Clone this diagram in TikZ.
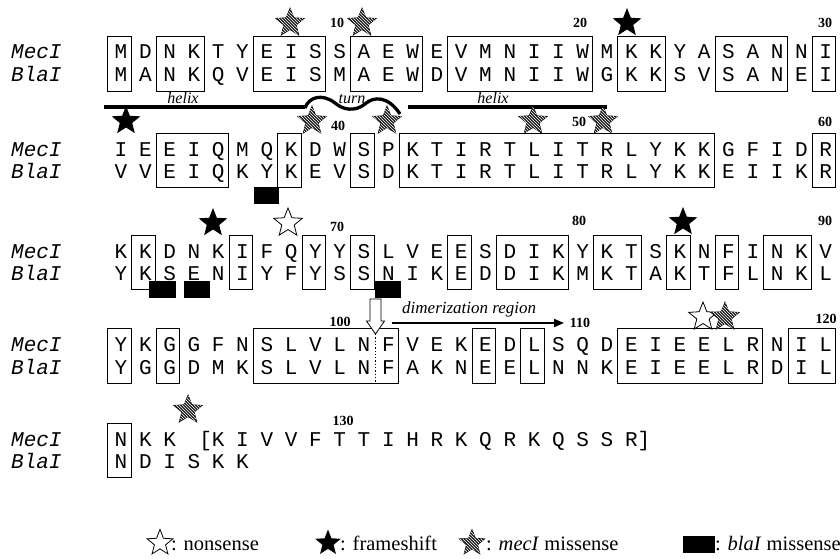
\documentclass[tikz,border=0pt]{standalone}
\usepackage{fontspec}
\setmainfont{Liberation Serif}
\newfontfamily\seqfont{Liberation Mono}
\usetikzlibrary{shapes.geometric,patterns,arrows.meta}
\begin{document}
\begin{tikzpicture}[x=1pt,y=-1pt,
  aa/.style={font=\seqfont\fontsize{21}{21}\selectfont, inner sep=0pt, anchor=base},
  lbl/.style={font=\seqfont\itshape\fontsize{21}{21}\selectfont, inner sep=0pt, anchor=base west},
  num/.style={font=\bfseries\fontsize{14}{14}\selectfont, inner sep=0pt},
  sbox/.style={draw, line width=0.8pt},
  stbase/.style={star, star points=5, star point ratio=2.3, minimum size=30pt, inner sep=0pt},
  bstar/.style={stbase, fill=black},
  ostar/.style={stbase, draw=black, fill=white, line width=0.8pt},
  hstar/.style={stbase, draw=black, line width=0.6pt, fill=black!88, postaction={pattern=north west lines, pattern color=white}},
  sq/.style={fill=black},
  hl/.style={line width=3.3pt},
  itl/.style={font=\itshape\fontsize{16}{16}\selectfont, inner sep=0pt, anchor=base},
  leg/.style={font=\fontsize{20.5}{20.5}\selectfont, inner sep=0pt, anchor=base west}
]
\useasboundingbox (0,0) rectangle (840,559);
\newcommand\seqbox[4]{\draw[sbox] ({121+(#3-1)*24.3-13.5},#1) rectangle ({121+(#4-1)*24.3+10},#2);}

% ---------- Row 1 ----------
\node[lbl] (l1m) at (11,59) {MecI};
\node[lbl] (l1b) at (11,82) {BlaI};
\foreach \c [count=\i] in {M,D,N,K,T,Y,E,I,S,S,A,E,W,E,V,M,N,I,I,W,M,K,K,Y,A,S,A,N,N,I}
  \node[aa] (r1m\i) at ({121+(\i-1)*24.3},59) {\c};
\foreach \c [count=\i] in {M,A,N,K,Q,V,E,I,S,M,A,E,W,D,V,M,N,I,I,W,G,K,K,S,V,S,A,N,E,I}
  \node[aa] (r1b\i) at ({121+(\i-1)*24.3},82) {\c};
\seqbox{36}{91}{1}{1}
\seqbox{36}{91}{3}{4}
\seqbox{36}{91}{7}{9}
\seqbox{36}{91}{11}{13}
\seqbox{36}{91}{15}{20}
\seqbox{36}{91}{22}{23}
\seqbox{36}{91}{26}{28}
\seqbox{36}{91}{30}{30}
\node[hstar] (s1a) at (290,23) {};
\node[hstar] (s1b) at (362,23) {};
\node[bstar] (s1c) at (627,23) {};
\node[num] (n10) at (337,23) {10};
\node[num] (n20) at (580,23) {20};
\node[num] (n30) at (825,23) {30};

% helix / turn
\draw[hl] (104,107) -- (305,107);
\draw[hl] (305,108) .. controls (309,97) and (322,93) .. (335,103) .. controls (343,110) and (355,112) .. (365,104) .. controls (374,96) and (388,96) .. (400,114);
\draw[hl] (408,107) -- (607,107);
\node[itl] (h1) at (183,103) {helix};
\node[itl] (t1) at (352,103) {turn};
\node[itl] (h2) at (493,103) {helix};

% ---------- Row 2 ----------
\node[lbl] (l2m) at (11,156) {MecI};
\node[lbl] (l2b) at (11,178) {BlaI};
\foreach \c [count=\i] in {I,E,E,I,Q,M,Q,K,D,W,S,P,K,T,I,R,T,L,I,T,R,L,Y,K,K,G,F,I,D,R}
  \node[aa] (r2m\i) at ({121+(\i-1)*24.3},156) {\c};
\foreach \c [count=\i] in {V,V,E,I,Q,K,Y,K,E,V,S,D,K,T,I,R,T,L,I,T,R,L,Y,K,K,E,I,I,K,R}
  \node[aa] (r2b\i) at ({121+(\i-1)*24.3},178) {\c};
\seqbox{133}{187}{3}{5}
\seqbox{133}{187}{8}{8}
\seqbox{133}{187}{11}{11}
\seqbox{133}{187}{13}{25}
\seqbox{133}{187}{30}{30}
\fill[sq] (254,187) rectangle (279,204);
\node[bstar] (s2a) at (126,121) {};
\node[hstar] (s2b) at (312,121) {};
\node[hstar] (s2c) at (387,121) {};
\node[hstar] (s2d) at (533,121) {};
\node[hstar] (s2e) at (603,121) {};
\node[num] (n40) at (338,126) {40};
\node[num] (n50) at (579,122) {50};
\node[num] (n60) at (825,122) {60};

% ---------- Row 3 ----------
\node[lbl] (l3m) at (11,258) {MecI};
\node[lbl] (l3b) at (11,280) {BlaI};
\foreach \c [count=\i] in {K,K,D,N,K,I,F,Q,Y,Y,S,L,V,E,E,S,D,I,K,Y,K,T,S,K,N,F,I,N,K,V}
  \node[aa] (r3m\i) at ({121+(\i-1)*24.3},258) {\c};
\foreach \c [count=\i] in {Y,K,S,E,N,I,Y,F,Y,S,S,N,I,K,E,D,D,I,K,M,K,T,A,K,T,F,L,N,K,L}
  \node[aa] (r3b\i) at ({121+(\i-1)*24.3},280) {\c};
\seqbox{235}{289}{2}{2}
\seqbox{235}{289}{6}{6}
\seqbox{235}{289}{9}{9}
\seqbox{235}{289}{11}{11}
\seqbox{235}{289}{15}{15}
\seqbox{235}{289}{17}{19}
\seqbox{235}{289}{21}{22}
\seqbox{235}{289}{24}{24}
\seqbox{235}{289}{26}{26}
\seqbox{235}{289}{28}{29}
\fill[sq] (149,281) rectangle (176,298);
\fill[sq] (184,281) rectangle (210,298);
\fill[sq] (375,281) rectangle (401,298);
\node[bstar] (s3a) at (213,223) {};
\node[ostar] (s3b) at (288,223) {};
\node[bstar] (s3c) at (683,222) {};
\node[num] (n70) at (337,227) {70};
\node[num] (n80) at (579,221) {80};
\node[num] (n90) at (825,221) {90};

% ---------- Row 4 ----------
\node[lbl] (l4m) at (11,351) {MecI};
\node[lbl] (l4b) at (11,374) {BlaI};
\foreach \c [count=\i] in {Y,K,G,G,F,N,S,L,V,L,N,F,V,E,K,E,D,L,S,Q,D,E,I,E,E,L,R,N,I,L}
  \node[aa] (r4m\i) at ({121+(\i-1)*24.3},351) {\c};
\foreach \c [count=\i] in {Y,G,G,D,M,K,S,L,V,L,N,F,A,K,N,E,E,L,N,N,K,E,I,E,E,L,R,D,I,L}
  \node[aa] (r4b\i) at ({121+(\i-1)*24.3},374) {\c};
\seqbox{328}{383}{1}{1}
\seqbox{328}{383}{3}{3}
\seqbox{328}{383}{7}{12}
\seqbox{328}{383}{16}{16}
\seqbox{328}{383}{18}{18}
\seqbox{328}{383}{22}{27}
\seqbox{328}{383}{29}{30}
% hollow arrow and dotted divider
\coordinate (atip) at (375.5,334);
\coordinate (dend) at (375.5,383);
\draw[line width=0.8pt, fill=white] (370,299) -- (381,299) -- (381,321) -- (384.5,321) -- (atip) -- (366.5,321) -- (370,321) -- cycle;
\draw[dotted, line width=1.3pt] (atip) -- (dend);
% dimerization region
\coordinate (dimA) at (392,323);
\coordinate (dimB) at (564,323);
\draw[line width=1.8pt, -{Triangle[length=10pt,width=8pt]}] (dimA) -- (dimB);
\node[itl, anchor=base west, font=\itshape\fontsize{17}{17}\selectfont] (dimt) at (402,313) {dimerization region};
\node[num] (n100) at (340,322) {100};
\node[num] (n110) at (580,323) {110};
\node[num] (n120) at (826,319) {120};
\node[ostar] (s4a) at (703,317) {};
\node[hstar] (s4b) at (725,317) {};

% ---------- Row 5 ----------
\node[lbl] (l5m) at (11,446) {MecI};
\node[lbl] (l5b) at (11,468) {BlaI};
\foreach \c [count=\i] in {N,K,K}
  \node[aa] (r5m\i) at ({121+(\i-1)*24.3},446) {\c};
\foreach \c [count=\i from 5] in {K,I,V,V,F,T,T,I,H,R,K,Q,R,K,Q,S,S,R}
  \node[aa] (r5m\i) at ({121+(\i-1)*24.3},446) {\c};
\node[aa] (brl) at ({121+4*24.3-12.6},446) {[};
\node[aa] (brr) at ({121+21*24.3+12.6},446) {]};
\foreach \c [count=\i] in {N,D,I,S,K,K}
  \node[aa] (r5b\i) at ({121+(\i-1)*24.3},468) {\c};
\seqbox{423}{477}{1}{1}
\node[hstar] (s5a) at (188,410) {};
\node[num] (n130) at (343,421) {130};

% ---------- Legend ----------
\node[ostar, minimum size=27pt] (k1) at (160,543) {};
\node[leg] (k1t) at (171,550) {: nonsense};
\node[bstar, minimum size=27pt] (k2) at (328,543) {};
\node[leg] (k2t) at (340,550) {: frameshift};
\node[hstar, minimum size=27pt] (k3) at (472,543) {};
\node[leg] (k3t) at (486,550) {: \textit{mecI} missense};
\fill[sq] (683,536) rectangle (715,553);
\node[leg] (k4t) at (715,550) {: \textit{blaI} missense};
\end{tikzpicture}
\end{document}
